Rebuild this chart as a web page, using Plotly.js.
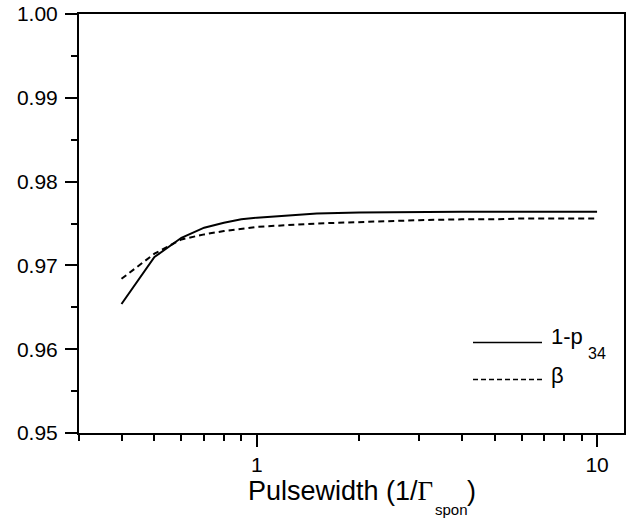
<!DOCTYPE html>
<html>
<head>
<meta charset="utf-8">
<script src="https://cdn.plot.ly/plotly-3.0.1.min.js"></script>
<style>
  html, body { margin: 0; padding: 0; background: #fff; }
  #plot { width: 635px; height: 518px; }
</style>
</head>
<body>
<div id="plot"></div>
<script>
// Pulse width in units of 1/Γ_spon
const pulsewidth = [0.4, 0.5, 0.6, 0.7, 0.8, 0.9, 1, 1.5, 2, 3, 4, 5, 6, 7, 8, 9, 10];
// 1 - p34
const oneMinusP34 = [0.9654, 0.9710, 0.9733, 0.9745, 0.9751, 0.9755, 0.9757, 0.9762, 0.9763,
                     0.9764, 0.9764, 0.9764, 0.9764, 0.9764, 0.9764, 0.9764, 0.9764];
// beta
const beta = [0.9684, 0.9714, 0.9731, 0.9737, 0.9741, 0.9744, 0.9746, 0.9750, 0.9752,
              0.9754, 0.9755, 0.9755, 0.9756, 0.9756, 0.9756, 0.9756, 0.9756];

const xMajorTicks = [1, 10];
const xMajorLabels = ['1', '10'];
const xMinorTicks = [0.3, 0.4, 0.5, 0.6, 0.7, 0.8, 0.9, 2, 3, 4, 5, 6, 7, 8, 9];
const yMajorTicks = [0.95, 0.96, 0.97, 0.98, 0.99, 1.00];
const yMajorLabels = ['0.95', '0.96', '0.97', '0.98', '0.99', '1.00'];
const yMinorTicks = [0.955, 0.965, 0.975, 0.985, 0.995];

// legend labels: main part and subscript
const legendNames = ['1-p', 'β'];
const legendSubs = ['34', ''];

// x-axis title pieces: text, subscript, closing bracket
const xTitleMain = 'Pulsewidth (1/<span style="font-family:\'Liberation Serif\', serif">Γ</span>';
const xTitleSub = 'spon';
const xTitleEnd = ')';

const FONT = 'Liberation Sans, Arial, Helvetica, sans-serif';

const traces = [
  {
    x: pulsewidth, y: oneMinusP34, type: 'scatter', mode: 'lines',
    line: { color: '#000', width: 2 }, showlegend: false
  },
  {
    x: pulsewidth, y: beta, type: 'scatter', mode: 'lines',
    line: { color: '#000', width: 2, dash: '6px,4px' }, showlegend: false
  }
];

// plot area in pixels, used to place the paper-referenced decorations
const L = 79, R = 624, T = 14, B = 433;
const px = v => (v - L) / (R - L);
const py = v => (B - v) / (B - T);

// hand-placed legend: sample lines plus labels
const legX0 = px(473), legX1 = px(542), legTextX = px(549);
const legLineY = [py(342.5), py(379.5)];
const legTextY = [py(336), py(375)];
const shapes = [
  { type: 'line', xref: 'paper', yref: 'paper', x0: legX0, x1: legX1, y0: legLineY[0], y1: legLineY[0],
    line: { color: '#000', width: 1.5 } },
  { type: 'line', xref: 'paper', yref: 'paper', x0: legX0, x1: legX1, y0: legLineY[1], y1: legLineY[1],
    line: { color: '#000', width: 1.5, dash: '5px,3px' } }
];

const annotations = [];
legendNames.forEach((t, i) => {
  annotations.push({
    xref: 'paper', yref: 'paper', x: legTextX, y: legTextY[i], xanchor: 'left', yanchor: 'middle',
    text: t, showarrow: false, font: { family: FONT, size: 22, color: '#000' }
  });
});
annotations.push({
  xref: 'paper', yref: 'paper', x: px(586), y: py(353), xanchor: 'left', yanchor: 'middle',
  text: legendSubs[0], showarrow: false, font: { family: FONT, size: 16, color: '#000' }
});

// x-axis title
annotations.push({
  xref: 'paper', yref: 'paper', x: px(246), y: py(491), xanchor: 'left', yanchor: 'middle',
  text: xTitleMain, showarrow: false, font: { family: FONT, size: 27, color: '#000' }
});
annotations.push({
  xref: 'paper', yref: 'paper', x: px(433), y: py(510), xanchor: 'left', yanchor: 'middle',
  text: xTitleSub, showarrow: false, font: { family: FONT, size: 15, color: '#000' }
});
annotations.push({
  xref: 'paper', yref: 'paper', x: px(465), y: py(491), xanchor: 'left', yanchor: 'middle',
  text: xTitleEnd, showarrow: false, font: { family: FONT, size: 27, color: '#000' }
});

const layout = {
  width: 635, height: 518,
  margin: { l: L, r: 635 - R, t: T, b: 518 - B },
  paper_bgcolor: '#fff', plot_bgcolor: '#fff',
  font: { family: FONT, size: 21, color: '#000' },
  xaxis: {
    type: 'log',
    range: [Math.log10(0.3), Math.log10(12)],
    tickmode: 'array', tickvals: xMajorTicks, ticktext: xMajorLabels,
    ticks: 'outside', ticklen: 12, tickwidth: 2, tickcolor: '#000',
    minor: { tickmode: 'array', tickvals: xMinorTicks, ticks: 'outside', ticklen: 6,
             tickwidth: 2, tickcolor: '#000', showgrid: false },
    showline: true, linewidth: 2, linecolor: '#000', mirror: true,
    showgrid: false, zeroline: false,
    tickfont: { family: FONT, size: 21 }
  },
  yaxis: {
    range: [0.95, 1.00],
    tickmode: 'array', tickvals: yMajorTicks, ticktext: yMajorLabels,
    ticks: 'outside', ticklen: 12, tickwidth: 2, tickcolor: '#000',
    minor: { tickmode: 'array', tickvals: yMinorTicks, ticks: 'outside', ticklen: 6,
             tickwidth: 2, tickcolor: '#000', showgrid: false },
    showline: true, linewidth: 2, linecolor: '#000', mirror: true,
    showgrid: false, zeroline: false,
    ticklabelstandoff: 3,
    tickfont: { family: FONT, size: 21 }
  },
  shapes: shapes,
  annotations: annotations,
  showlegend: false
};

Plotly.newPlot('plot', traces, layout, { displayModeBar: false, staticPlot: true });
</script>
</body>
</html>
